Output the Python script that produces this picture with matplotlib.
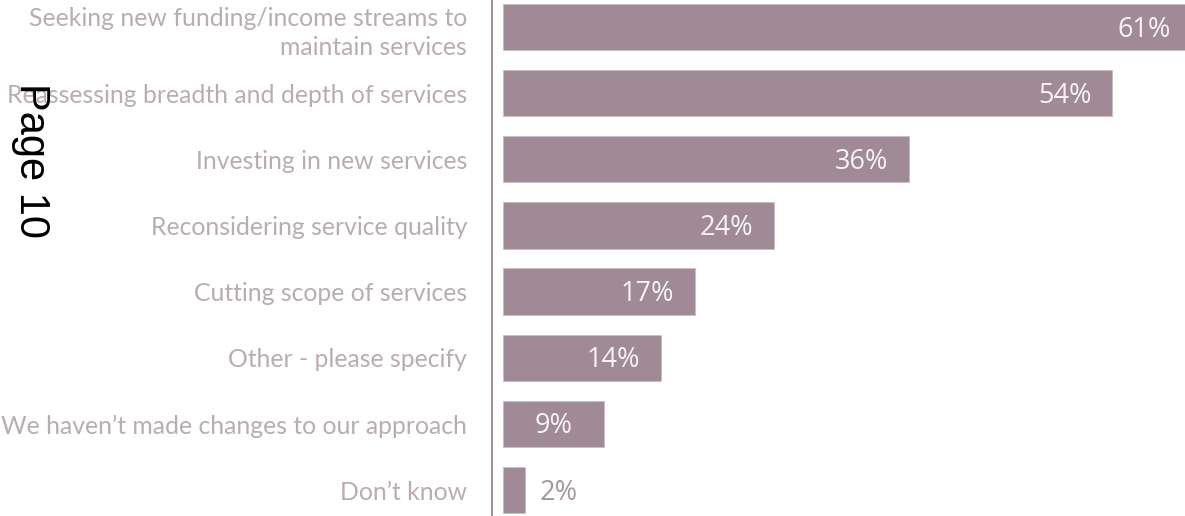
import matplotlib
matplotlib.use("Agg")
import matplotlib.pyplot as plt
import matplotlib.transforms as mtransforms

categories = [
    "Seeking new funding/income streams to\nmaintain services",
    "Reassessing breadth and depth of services",
    "Investing in new services",
    "Reconsidering service quality",
    "Cutting scope of services",
    "Other - please specify",
    "We haven\u2019t made changes to our approach",
    "Don\u2019t know",
]
values = [61, 54, 36, 24, 17, 14, 9, 2]
value_labels = ["61%", "54%", "36%", "24%", "17%", "14%", "9%", "2%"]

W, H = 1185, 516
fig = plt.figure(figsize=(W / 100, H / 100), dpi=100)
ax = fig.add_axes([502.8 / W, 0, 1 - 502.8 / W, 1])

bar_color = "#a08a95"
label_color = "#b9acb5"
axis_color = "#a48f9c"

y = list(range(len(categories)))
ax.barh(y, values, height=0.70, color=bar_color, edgecolor="#c9bcc5", linewidth=0.6)
ax.set_xlim(0, 60.48)
ax.set_ylim(7.393, -0.408)
ax.set_yticks([])
ax.set_xticks([])

for s in ["top", "right", "bottom"]:
    ax.spines[s].set_visible(False)
ax.spines["left"].set_position(("outward", 7.8))
ax.spines["left"].set_color(axis_color)
ax.spines["left"].set_linewidth(1.4)

# category labels, right-aligned at x = 467 px
trans = mtransforms.blended_transform_factory(fig.transFigure, ax.transData)
for yi, cat in zip(y, categories):
    off = 0.423 if "\n" in cat else 0.147
    fig.text(467 / W, yi + off, cat, transform=trans, ha="right", va="baseline",
             multialignment="right", fontsize=17.8, color=label_color,
             family=["Lato", "DejaVu Sans"], linespacing=1.3)

vfont = ["Open Sans", "DejaVu Sans"]
for yi, v, lab in zip(y, values, value_labels):
    yb = yi + 0.144
    if v < 5:
        ax.text(v + 1.25, yb, lab, ha="left", va="baseline", fontsize=19.5,
                color="#a7979f", family=vfont)
    elif v < 12:
        ax.text(v / 2, yb, lab, ha="center", va="baseline", fontsize=19.5,
                color="#f7f3f5", family=vfont)
    else:
        ax.text(v - 1.8, yb, lab, ha="right", va="baseline", fontsize=19.5,
                color="#f7f3f5", family=vfont, clip_on=False)

fig.text(30.5 / W, 1 - 83 / H, "Page 10", rotation=-90, ha="center", va="top",
         fontsize=30, family=["Liberation Sans", "Arial", "DejaVu Sans"], color="black")

fig.savefig("out.png", dpi=100)
